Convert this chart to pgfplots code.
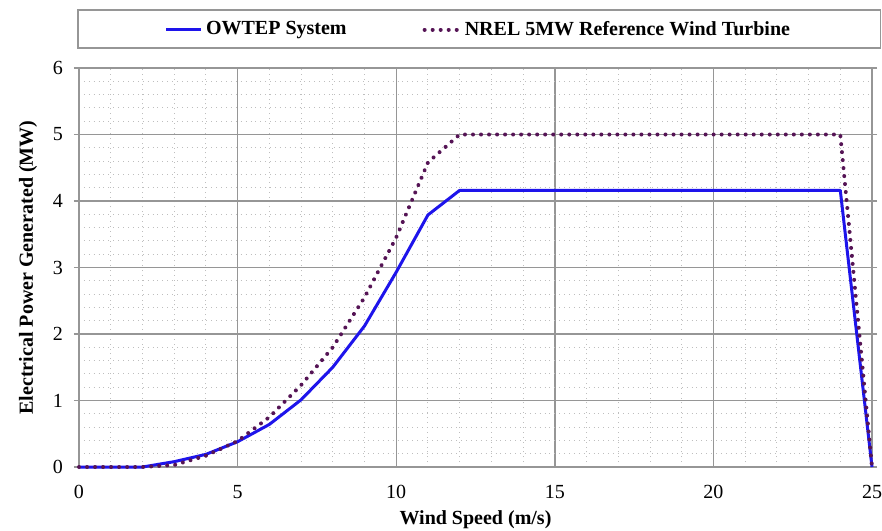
\documentclass[border=0pt]{standalone}
\usepackage{fontspec}
\setmainfont{Liberation Serif}
\usepackage{pgfplots}
\pgfplotsset{compat=1.18}
\definecolor{owtep}{RGB}{30,20,235}
\definecolor{nrel}{RGB}{85,20,85}
\definecolor{gridmajor}{RGB}{150,150,150}
\definecolor{gridminor}{RGB}{190,190,190}
\begin{document}
\begin{tikzpicture}
\begin{axis}[
  scale only axis, width=396.5pt, height=199.5pt,
  xmin=0, xmax=25, ymin=0, ymax=6,
  xtick={0,5,...,25}, ytick={0,1,...,6},
  minor x tick num=4, minor y tick num=4,
  grid=both,
  major grid style={gridmajor, line width=0.7pt},
  minor grid style={gridminor, line width=0.45pt, dotted},
  axis line style={gridmajor, line width=0.7pt},
  tick align=outside, major tick length=2.5pt, minor tick length=0pt,
  xtick style={draw=none}, ytick style={gridmajor, line width=0.7pt},
  /pgf/number format/assume math mode=true,
  xticklabel style={yshift=-3pt},
  yticklabel style={xshift=-2pt},
  xlabel={Wind Speed (m/s)},
  ylabel={Electrical Power Generated (MW)},
  label style={font=\bfseries},
  x label style={at={(axis description cs:0.5,-0.132)}, anchor=center},
  y label style={at={(axis description cs:-0.0643,0.5)}, anchor=center},
  clip=false,
  legend columns=2,
  legend style={at={(axis description cs:0.505,1.096)}, anchor=center,
    draw=none, fill=none, font=\bfseries,
    /tikz/every even column/.append style={column sep=36pt}},
  legend cell align=left,
]
\addplot[owtep, line width=1.5pt, line join=round] coordinates {
  (0,0) (1,0) (2,0) (3,0.08) (4,0.19) (5,0.38) (6,0.64) (7,1.01)
  (8,1.50) (9,2.12) (10,2.93) (11,3.79) (12,4.16) (13,4.16) (14,4.16)
  (15,4.16) (16,4.16) (17,4.16) (18,4.16) (19,4.16) (20,4.16) (21,4.16)
  (22,4.16) (23,4.16) (24,4.16) (25,0)
};
\addlegendentry{OWTEP System}
\addplot[nrel, line width=2pt, line cap=round, dash pattern=on 0.01pt off 4pt] coordinates {
  (0,0) (1,0) (2,0) (3,0.03) (4,0.17) (5,0.39) (6,0.75) (7,1.23)
  (8,1.80) (9,2.55) (10,3.45) (11,4.58) (12,5.0) (13,5.0) (14,5.0)
  (15,5.0) (16,5.0) (17,5.0) (18,5.0) (19,5.0) (20,5.0) (21,5.0)
  (22,5.0) (23,5.0) (24,5.0) (25,0)
};
\addlegendentry{NREL 5MW Reference Wind Turbine}
\draw[gridmajor, line width=0.75pt]
  (axis description cs:-0.001,1.050) rectangle (axis description cs:1.0105,1.145);
\end{axis}
\pgfresetboundingbox
\useasboundingbox (-39.5pt,-31.5pt) rectangle (401.5pt,233.5pt);
\end{tikzpicture}
\end{document}
